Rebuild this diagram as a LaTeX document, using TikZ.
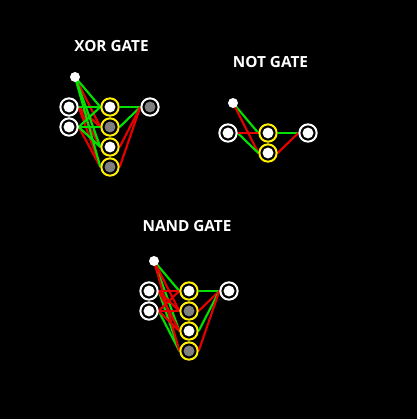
\documentclass[tikz,border=0pt]{standalone}
\usepackage{fontspec}
\setmainfont{Open Sans}
\usetikzlibrary{backgrounds}
\definecolor{gr}{RGB}{0,225,0}
\definecolor{rd}{RGB}{230,0,0}
\definecolor{gy}{RGB}{128,128,128}
\definecolor{yl}{RGB}{255,240,0}
\tikzset{
  neuron/.style={circle,inner sep=0pt,minimum size=13pt,line width=1.5pt,fill=black},
  inp/.style={neuron,draw=white,path picture={\fill[white] (path picture bounding box.center) circle (4.1pt);}},
  hidw/.style={neuron,draw=yl,path picture={\fill[white] (path picture bounding box.center) circle (4.1pt);}},
  hidg/.style={neuron,draw=yl,path picture={\fill[gy] (path picture bounding box.center) circle (4.1pt);}},
  outg/.style={neuron,draw=white,path picture={\fill[gy] (path picture bounding box.center) circle (4.1pt);}},
  bias/.style={circle,fill=white,inner sep=0pt,minimum size=7.5pt},
  g/.style={draw=gr,line width=1.6pt},
  r/.style={draw=rd,line width=1.6pt},
  ttl/.style={text=white,font=\bfseries\fontsize{11.5}{13}\selectfont}
}
\begin{document}
\begin{tikzpicture}[x=0.75pt,y=-0.75pt]
\useasboundingbox (0,0) rectangle (417,419);
% titles
\node[ttl] (t1) at (111.5,46) {XOR GATE};
\node[ttl] (t2) at (270.5,62) {NOT GATE};
\node[ttl] (t3) at (187,226) {NAND GATE};
% XOR
\node[bias] (xb) at (75,77) {};
\node[inp] (x1) at (69,107) {};
\node[inp] (x2) at (69,127) {};
\node[hidw] (xh1) at (110,107) {};
\node[hidg] (xh2) at (110,127) {};
\node[hidw] (xh3) at (110,147) {};
\node[hidg] (xh4) at (110,167) {};
\node[outg] (xo) at (150,107) {};
% NOT
\node[bias] (nb) at (233,103) {};
\node[inp] (n1) at (228,133) {};
\node[hidw] (nh1) at (268,133) {};
\node[hidw] (nh2) at (268,153) {};
\node[inp] (no) at (308,133) {};
% NAND
\node[bias] (ab) at (154,261) {};
\node[inp] (a1) at (149,291) {};
\node[inp] (a2) at (149,311) {};
\node[hidw] (ah1) at (189,291) {};
\node[hidg] (ah2) at (189,311) {};
\node[hidw] (ah3) at (189,331) {};
\node[hidg] (ah4) at (189,351) {};
\node[inp] (ao) at (229,291) {};
\begin{pgfonlayer}{background}
\fill[black] (0,0) rectangle (417,419);
% XOR edges
\draw[r] (x1.east) -- (xh2.west);
\draw[r] (x1.east) -- (xh3.west);
\draw[r] (x1.east) -- (xh4.west);
\draw[r] (xb.center) -- (xh2.west);
\draw[r] (x2.east) -- (xh4.west);
\draw[g] (x1.east) -- (xh1.west);
\draw[g] (x2.east) -- (xh1.west);
\draw[g] (x2.east) -- (xh2.west);
\draw[g] (x2.east) -- (xh3.west);
\draw[g] (xb.center) -- (xh1.west);
\draw[g] (xb.center) -- (xh3.west);
\draw[g] (xb.center) -- (xh4.west);
\draw[g] (xh1.east) -- (xo.west);
\draw[g] (xh2.east) -- (xo.west);
\draw[r] (xh3.east) -- (xo.west);
\draw[r] (xh4.east) -- (xo.west);
% NOT edges
\draw[g] (nb.center) -- (nh1.west);
\draw[r] (nb.center) -- (nh2.west);
\draw[g] (n1.east) -- (nh2.west);
\draw[r] (n1.east) -- (nh1.west);
\draw[g] (nh1.east) -- (no.west);
\draw[r] (nh2.east) -- (no.west);
% NAND edges
\draw[g] (ab.center) -- (ah1.west);
\draw[g] (ab.center) -- (ah3.west);
\draw[g] (a2.east) -- (ah4.west);
\draw[g] (a1.east) -- (ah4.west);
\draw[r] (ab.center) -- (ah2.west);
\draw[r] (ab.center) -- (ah4.west);
\draw[r] (a1.east) -- (ah1.west);
\draw[r] (a1.east) -- (ah2.west);
\draw[r] (a1.east) -- (ah3.west);
\draw[r] (a2.east) -- (ah1.west);
\draw[r] (a2.east) -- (ah2.west);
\draw[r] (a2.east) -- (ah3.west);
\draw[g] (ah1.east) -- (ao.west);
\draw[r] (ah2.east) -- (ao.west);
\draw[g] (ah3.east) -- (ao.west);
\draw[r] (ah4.east) -- (ao.west);
\end{pgfonlayer}
\end{tikzpicture}
\end{document}
